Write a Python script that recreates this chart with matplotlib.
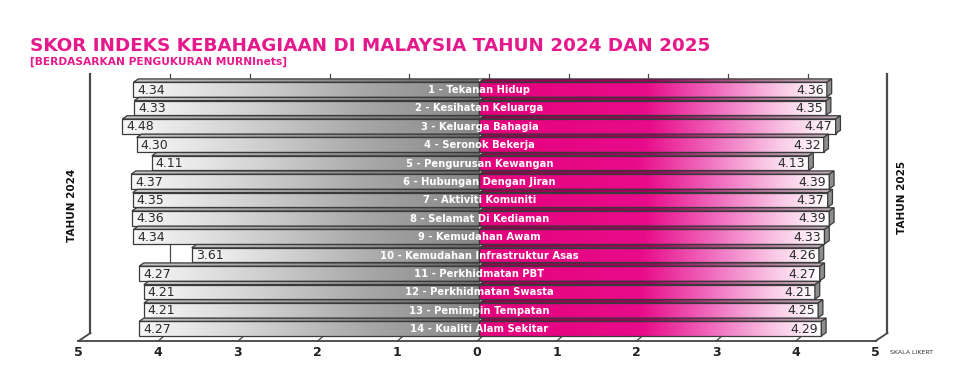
import matplotlib
matplotlib.use("Agg")
import matplotlib.pyplot as plt
import numpy as np
from matplotlib.patches import Polygon
from matplotlib.colors import LinearSegmentedColormap

# data
labels = ["1 - Tekanan Hidup", "2 - Kesihatan Keluarga", "3 - Keluarga Bahagia",
          "4 - Seronok Bekerja", "5 - Pengurusan Kewangan", "6 - Hubungan Dengan Jiran",
          "7 - Aktiviti Komuniti", "8 - Selamat Di Kediaman", "9 - Kemudahan Awam",
          "10 - Kemudahan Infrastruktur Asas", "11 - Perkhidmatan PBT",
          "12 - Perkhidmatan Swasta", "13 - Pemimpin Tempatan", "14 - Kualiti Alam Sekitar"]
skor_2024 = [4.34, 4.33, 4.48, 4.30, 4.11, 4.37, 4.35, 4.36, 4.34, 3.61, 4.27, 4.21, 4.21, 4.27]
skor_2025 = [4.36, 4.35, 4.47, 4.32, 4.13, 4.39, 4.37, 4.39, 4.33, 4.26, 4.27, 4.21, 4.25, 4.29]
ticks = [-5, -4, -3, -2, -1, 0, 1, 2, 3, 4, 5]

# layout (pixel scale of the reference)
W, H = 967, 380
X0_PIX, PX_UNIT = 477, 79.7      # x=0 position and pixels per score unit
Y0_PIX, PX_ROW = 89.5, 18.4      # first row centre and row pitch
BAR_H = 0.79                     # front face height (rows)
BDX, BDY = 0.06, -0.18           # bar depth
WDX, WDY = 0.15, -0.435          # wall/floor depth
SHIFT = 0.03                     # bars sit slightly behind the front edge
FLOOR_Y = 13.67
TOP_Y = -0.84
EDGE = "#3a3a3a"
PINK = "#e6198c"

fig = plt.figure(figsize=(W / 100, H / 100), dpi=100)
ax = fig.add_axes([0, 0, 1, 1])
ax.set_autoscale_on(False)
ax.set_xlim(-X0_PIX / PX_UNIT, (W - X0_PIX) / PX_UNIT)
ax.set_ylim((H - Y0_PIX) / PX_ROW, -Y0_PIX / PX_ROW)
ax.axis("off")

grey_cm = LinearSegmentedColormap.from_list("g", ["#f8f8f8", "#d2d2d2", "#a8a8a8", "#868686"])
pink_cm = LinearSegmentedColormap.from_list(
    "p", [(0, "#e5007d"), (0.48, "#e80c8a"), (0.68, "#f06abd"), (0.86, "#f9c4e4"), (1, "#ffffff")])
grey_top = LinearSegmentedColormap.from_list("gt", ["#c8c8c8", "#989898", "#686868"])
pink_top = LinearSegmentedColormap.from_list(
    "pt", [(0, "#94004f"), (0.5, "#a0035f"), (0.8, "#b07096"), (1, "#c0b0ba")])


def grad_poly(verts, xa, xb, cmap, z):
    poly = Polygon(verts, closed=True, facecolor="none", edgecolor=EDGE, lw=0.9, zorder=z + 0.1)
    ax.add_patch(poly)
    ys = [v[1] for v in verts]
    img = ax.imshow(np.linspace(0, 1, 256).reshape(1, -1), cmap=cmap, aspect="auto",
                    extent=[xa, xb, max(ys), min(ys)], interpolation="bilinear", zorder=z)
    img.set_clip_path(poly)


# back wall grid lines
for t in ticks:
    ax.plot([t + WDX, t + WDX], [FLOOR_Y + WDY, TOP_Y], color="#4a4a4a",
            lw=1.6 if abs(t) == 5 else 0.9, zorder=1)

# floor
ax.plot([-5, 5], [FLOOR_Y, FLOOR_Y], color="#444444", lw=1.3, zorder=1)
for side in (-5, 5):
    ax.plot([side, side + WDX], [FLOOR_Y, FLOOR_Y + WDY], color="#444444", lw=1.3, zorder=1)
for t in ticks[1:-1]:
    ax.plot([t, t + 0.06], [FLOOR_Y, FLOOR_Y - 0.22], color="#444444", lw=0.9, zorder=1)
for t in ticks:
    ax.text(t, 14.27, str(abs(t)), ha="center", va="center", fontsize=9,
            fontweight="bold", color="#222222")

# bars
for i, (lab, a, b) in enumerate(zip(labels, skor_2024, skor_2025)):
    z = 2 + i
    yt, yb = i - BAR_H / 2, i + BAR_H / 2
    xl, xc, xr = -a + SHIFT, SHIFT, b + SHIFT
    # 2024 (left)
    grad_poly([(xl, yt), (xc, yt), (xc, yb), (xl, yb)], xl, xc, grey_cm, z)
    grad_poly([(xl, yt), (xl + BDX, yt + BDY), (xc + BDX, yt + BDY), (xc, yt)],
              xl, xc, grey_top, z)
    # 2025 (right)
    grad_poly([(xc, yt), (xr, yt), (xr, yb), (xc, yb)], xc, xr, pink_cm, z)
    grad_poly([(xc, yt), (xc + BDX, yt + BDY), (xr + BDX, yt + BDY), (xr, yt)],
              xc, xr + BDX, pink_top, z)
    ax.add_patch(Polygon([(xr, yt), (xr + BDX, yt + BDY), (xr + BDX, yb + BDY), (xr, yb)],
                         closed=True, facecolor="#8e8e8e", edgecolor=EDGE, lw=0.9, zorder=z + 0.2))
    ax.text(xl + 0.05, i + 0.03, f"{a:.2f}", ha="left", va="center", fontsize=9,
            color="#2a2a2a", zorder=z + 0.5)
    ax.text(xr - 0.04, i + 0.03, f"{b:.2f}", ha="right", va="center", fontsize=9,
            color="#2a2a2a", zorder=z + 0.5)
    ax.text(xc, i + 0.03, lab, ha="center", va="center", fontsize=7.2, fontweight="bold",
            color="white", zorder=z + 0.5)

# titles
fig.text(30 / W, 1 - 46 / H, "SKOR INDEKS KEBAHAGIAAN DI MALAYSIA TAHUN 2024 DAN 2025",
         ha="left", va="center", fontsize=13.2, fontweight="bold", color=PINK)
fig.text(30 / W, 1 - 62 / H, "[BERDASARKAN PENGUKURAN MURNInets]",
         ha="left", va="center", fontsize=7.7, fontweight="bold", color=PINK)
fig.text(72 / W, 1 - 205 / H, "TAHUN 2024", rotation=90, ha="center", va="center",
         fontsize=7.5, fontweight="bold", color="#111111")
fig.text(902 / W, 1 - 197 / H, "TAHUN 2025", rotation=90, ha="center", va="center",
         fontsize=7.5, fontweight="bold", color="#111111")
fig.text(890 / W, 1 - 352 / H, "SKALA LIKERT", ha="left", va="center",
         fontsize=4.5, color="#333333")

fig.savefig("out.png", dpi=100)
